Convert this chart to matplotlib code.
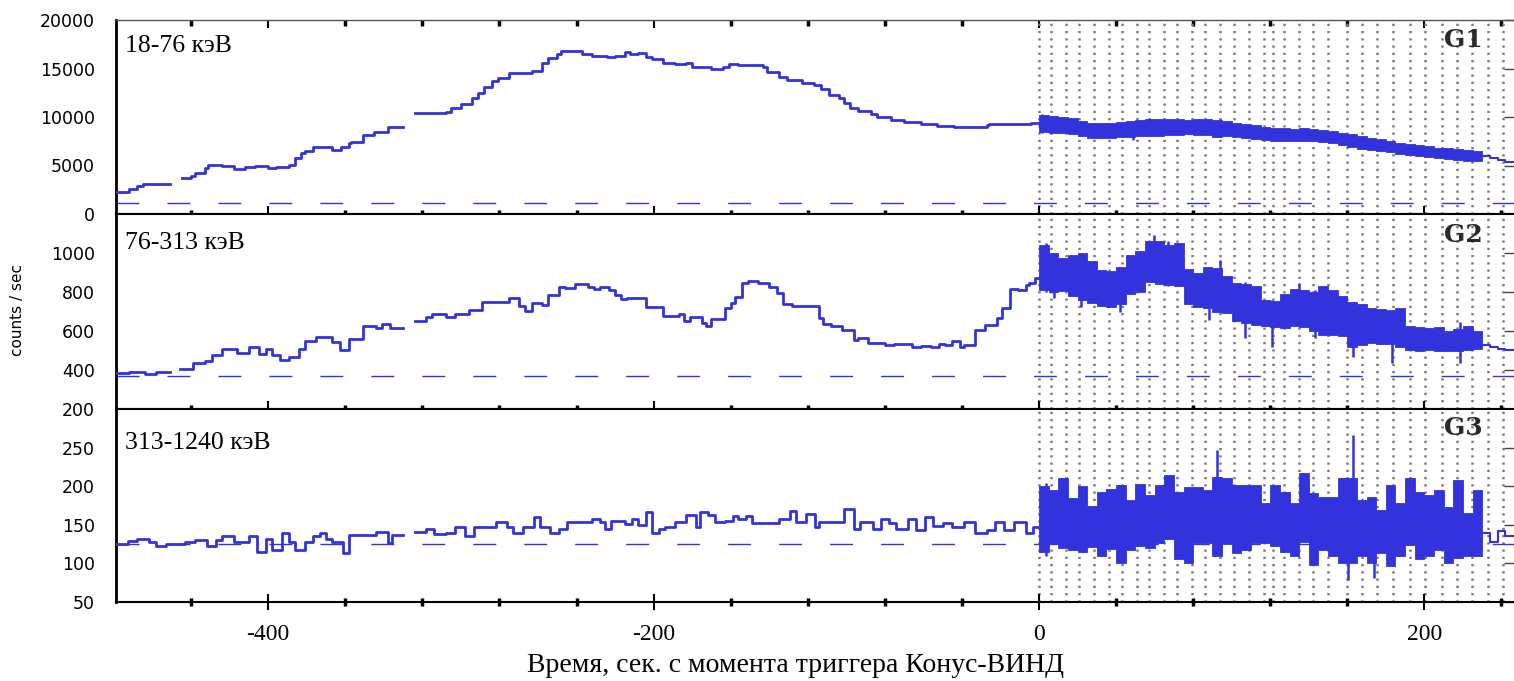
import numpy as np
import matplotlib
matplotlib.use("Agg")
from matplotlib import pyplot as plt
from matplotlib.ticker import MultipleLocator, FixedLocator

nan = np.nan
BLUE = '#3333dd'
plt.rcParams['axes.unicode_minus'] = False

# pre-trigger light curves: step edges (s) and count rates
t_g1 = [-479, -472, -468, -465, -451, -445, -440, -438, -433, -431, -424, -418, -412, -407, -400,
        -396, -389, -386, -383, -381, -377, -370, -367, -362, -358, -357, -351, -345, -338, -330,
        -324, -308, -305, -300, -294, -291, -288, -284, -281, -275, -263, -258, -255, -250, -248,
        -237, -232, -224, -220, -215, -212, -208, -204, -201, -195, -189, -183, -180, -170, -164,
        -161, -156, -153, -143, -141, -135, -131, -123, -117, -113, -109, -104, -101, -98, -94,
        -87, -84, -77, -70, -61, -53, -44, -27, -26, -18, -4, 0]
c_g1 = [2300, 2580, 2850, 3090, nan, 3680, 3920, 4260, 4710, 5020, 4900, 4610, 4810, 4950, 4710,
        4880, 5050, 5740, 6320, 6530, 6940, 6870, 6600, 6870, 7290, 7460, 8140, 8480, 9000, nan,
        10450, 10550, 10890, 11340, 11930, 12440, 13130, 13750, 13990, 14500, 14780, 15530, 16050, 16500, 16840,
        16500, 16320, 16220, 16320, 16670, 16500, 16560, 16220, 15980, 15530, 15430, 15530, 15190, 14950, 15190,
        15460, 15330, 15400, 15120, 14670, 14160, 13810, 13540, 13300, 12850, 12270, 11920, 11410, 10890, 10620,
        10310, 9970, 9690, 9520, 9250, 9070, 8940, 9180, 9280, 9250, 9420]

t_g2 = [-479, -472, -464, -458, -451, -446, -439, -433, -429, -424, -416, -410, -405, -401, -398,
        -394, -389, -384, -381, -375, -367, -363, -358, -351, -344, -341, -337, -330, -324, -318,
        -315, -308, -303, -296, -289, -275, -270, -267, -263, -258, -255, -249, -246, -241, -239,
        -234, -231, -228, -223, -220, -217, -214, -204, -195, -187, -184, -181, -175, -173, -170,
        -163, -160, -158, -154, -151, -146, -140, -136, -133, -128, -114, -112, -108, -102, -96,
        -94, -89, -80, -75, -66, -61, -56, -52, -49, -45, -41, -39, -33, -28, -22,
        -19, -15, -11, -7, -5, -2, 0]
c_g2 = [385, 391, 379, 391, nan, 404, 437, 447, 477, 506, 489, 520, 482, 506, 477,
        451, 468, 506, 550, 568, 544, 502, 561, 627, 614, 636, 614, nan, 653, 670,
        687, 674, 687, 708, 750, 768, 728, 704, 745, 733, 785, 824, 819, 841, 839,
        827, 815, 824, 810, 785, 765, 768, 721, 677, 687, 653, 670, 643, 626, 660,
        716, 742, 776, 845, 856, 845, 828, 793, 738, 728, 665, 636, 626, 605, 554,
        562, 537, 528, 533, 519, 522, 516, 533, 528, 550, 519, 528, 605, 631, 665,
        716, 814, 810, 836, 845, 870]

t_g3 = [-479, -473, -468, -462, -458, -453, -443, -438, -432, -427, -424, -418, -410, -406, -401,
        -398, -393, -389, -386, -381, -377, -373, -370, -367, -361, -358, -344, -338, -336, -330,
        -324, -318, -314, -308, -303, -298, -293, -282, -276, -273, -268, -262, -259, -254, -249,
        -245, -232, -228, -225, -222, -215, -211, -208, -204, -201, -197, -194, -189, -183, -178,
        -176, -172, -168, -163, -159, -156, -152, -149, -135, -129, -126, -121, -116, -114, -101,
        -96, -93, -86, -82, -78, -74, -68, -64, -59, -55, -50, -45, -39, -33, -27,
        -23, -18, -13, -7, -3, 0]
c_g3 = [125, 129, 131, 128, 122, 125, 128, 130, 122, 130, 135, 128, 135, 115, 132,
        117, 139, 128, 118, 128, 135, 140, 131, 128, 113, 137, 141, 126, 137, nan,
        141, 144, 138, 140, 147, 135, 147, 153, 147, 139, 147, 160, 147, 139, 145,
        153, 157, 154, 145, 155, 151, 157, 150, 167, 139, 144, 147, 153, 163, 147,
        167, 163, 153, 155, 161, 157, 161, 152, 158, 168, 153, 164, 147, 154, 170,
        145, 153, 145, 157, 152, 145, 157, 143, 160, 148, 152, 147, 153, 139, 143,
        154, 143, 154, 139, 147]

# post-trigger fast data: upper / lower envelope of the noisy band, 5 s bins
t_band = list(range(0, 235, 5))
g1_hi = [10250, 10100, 10000, 9850, 9600, 9400, 9350, 9400, 9500, 9600, 9700, 9750, 9800, 9800, 9750,
         9700, 9750, 9800, 9700, 9600, 9400, 9300, 9200, 9000, 8900, 8850, 8800, 8850, 8800, 8700,
         8550, 8400, 8200, 8000, 7850, 7700, 7500, 7300, 7200, 7150, 7000, 6800, 6800, 6700, 6600, 6450]
g1_lo = [8500, 8350, 8300, 8200, 8000, 7850, 7800, 7850, 7900, 7950, 8000, 8050, 8050, 8100, 8150,
         8200, 8150, 8100, 7950, 8000, 7900, 7850, 7750, 7600, 7550, 7550, 7500, 7550, 7550, 7450,
         7300, 7150, 6950, 6750, 6600, 6500, 6350, 6200, 6050, 6000, 5900, 5750, 5650, 5550, 5500, 5450]
g2_hi = [1040, 1000, 975, 990, 1000, 960, 915, 910, 930, 990, 1010, 1060, 1060, 1040, 1050,
         920, 900, 930, 925, 880, 845, 840, 830, 760, 755, 790, 815, 810, 800, 830,
         810, 780, 750, 740, 720, 715, 710, 720, 625, 620, 615, 620, 600, 610, 625, 600]
g2_lo = [810, 800, 805, 780, 760, 745, 730, 725, 740, 790, 800, 850, 840, 835, 830,
         740, 725, 720, 700, 690, 650, 640, 630, 625, 620, 615, 625, 620, 600, 580,
         580, 575, 520, 530, 540, 535, 535, 520, 505, 500, 505, 495, 500, 500, 505, 510]
g3_hi = [200, 195, 210, 185, 200, 175, 193, 196, 202, 182, 203, 188, 202, 214, 193,
         199, 199, 195, 212, 210, 201, 201, 201, 178, 201, 193, 178, 217, 191, 186,
         186, 210, 210, 182, 186, 169, 201, 178, 210, 193, 188, 195, 173, 208, 165, 195]
g3_lo = [115, 125, 120, 117, 115, 121, 110, 119, 100, 117, 122, 120, 126, 132, 106,
         100, 126, 126, 109, 125, 113, 117, 126, 126, 122, 115, 109, 128, 98, 117,
         109, 100, 100, 110, 100, 113, 96, 109, 124, 106, 109, 117, 100, 107, 109, 110]

# single-bin spikes in the fast data (time, low, high)
g1_spk = ([1.5, 49, 94], [8400, 7630, 7970], [10350, 9600, 9750])
g2_spk = ([3.5, 7.8, 21.6, 42.2, 59.6, 67, 88.1, 94.1, 107, 120.9, 134.7, 143.3, 163.2, 183, 218.4],
          [800, 768, 725, 699, 850, 830, 656, 700, 563, 519, 640, 563, 468, 434, 434],
          [1053, 990, 1000, 930, 1092, 1063, 900, 964, 850, 760, 845, 810, 750, 700, 648])
g3_spk = ([3.5, 92.4, 137, 160.1, 163.2, 173.6],
          [109, 140, 130, 78.5, 150, 80.7],
          [204, 247, 217, 150, 266, 150])

# after the fast data ends
t_tail = [230, 234, 238, 242, 248]
g1_tail = [5950, 5800, 5600, 5350]
g2_tail = [528, 520, 510, 502]
g3_tail = [140, 128, 142, 136]

background = [1150, 371, 125]
t_intervals = [0, 6.1, 13.9, 20.8, 28.5, 36.3, 43.2, 51, 57, 64.8, 71.7, 79.5, 86.4, 94.1, 101,
               108.8, 116.6, 121.5, 126.9, 134.7, 142.4, 150.2, 159.7, 167.5, 175.3, 183.9, 192.5,
               200.3, 208.9, 216.7, 224.5, 233.1, 240.9]

bands = ['18-76 кэВ', '76-313 кэВ', '313-1240 кэВ']
names = ['G1', 'G2', 'G3']
ylims = [(0, 20000), (200, 1200), (50, 300)]
yticks = [[0, 5000, 10000, 15000, 20000], [200, 400, 600, 800, 1000], [50, 100, 150, 200, 250]]
label_y = [0.866, 0.851, 0.824]
name_y = [0.897, 0.892, 0.900]

pre = [(t_g1, c_g1), (t_g2, c_g2), (t_g3, c_g3)]
fast = [(g1_lo, g1_hi), (g2_lo, g2_hi), (g3_lo, g3_hi)]
spikes = [g1_spk, g2_spk, g3_spk]
tails = [g1_tail, g2_tail, g3_tail]

fig = plt.figure(figsize=(15.14, 6.81), dpi=100)
W, H = 1514.0, 681.0
tops = [20, 214, 409]
bots = [214, 409, 602]
left = 116

for i in range(3):
    ax = fig.add_axes([left / W, 1 - bots[i] / H, 1 - left / W, (bots[i] - tops[i]) / H])
    ax.set_xlim(-479, 246.5)
    ax.set_ylim(*ylims[i])

    for t in t_intervals:
        ax.axvline(t, color='#7a7a7a', lw=1.8, ls=(0, (0.9, 2.0)), zorder=1)
    ax.axhline(background[i], color=BLUE, lw=1.0, ls=(0, (16.5, 20.2)), zorder=2)

    t, c = pre[i]
    ax.step(t, list(c) + [c[-1]], where='post', color=BLUE, lw=2.0, zorder=3)
    lo, hi = fast[i]
    ax.fill_between(t_band, lo + [lo[-1]], hi + [hi[-1]], step='post', color=BLUE, lw=0.6,
                    edgecolor=BLUE, zorder=3)
    st, slo, shi = spikes[i]
    ax.vlines(st, slo, shi, color=BLUE, lw=1.8, zorder=3)
    tl = tails[i]
    ax.step(t_tail, tl + [tl[-1]], where='post', color=BLUE, lw=1.5, zorder=3)

    ax.text(0.0064, label_y[i], bands[i], transform=ax.transAxes, fontsize=18.5,
            family='Liberation Serif', va='center', ha='left')
    ax.text(0.9635, name_y[i], names[i], transform=ax.transAxes, fontsize=18,
            family='DejaVu Serif', fontweight='bold', color='#2a2a2a', va='center', ha='center')

    ax.spines['right'].set_visible(False)
    ax.spines['left'].set_linewidth(2)
    ax.spines['bottom'].set_linewidth(1.5)
    ax.spines['top'].set_linewidth(1.0 if i == 0 else 1.5)
    ax.spines['top'].set_color('#555555' if i == 0 else 'black')

    ax.yaxis.set_major_locator(FixedLocator(yticks[i]))
    ax.tick_params(axis='y', direction='in', left=False, right=True, labelleft=True,
                   length=7, width=1, color='#444444', pad=15, labelsize=12.5)

    ax.xaxis.set_major_locator(MultipleLocator(200))
    ax.xaxis.set_minor_locator(MultipleLocator(40))
    ax.tick_params(axis='x', which='major', direction='inout', length=11, width=1.5, top=False)
    ax.tick_params(axis='x', which='minor', direction='inout', length=6, width=2.5, top=False)
    if i == 2:
        ax.tick_params(axis='x', which='major', labelsize=17, pad=10)
        for lab in ax.get_xticklabels():
            lab.set_family('Liberation Serif')
        ax.set_xlabel('Время, сек. с момента триггера Конус-ВИНД', family='Liberation Serif',
                      fontsize=20)
        ax.xaxis.set_label_coords(0.486, -0.265)
    else:
        ax.tick_params(axis='x', labelbottom=False)
    if i == 0:
        sec = ax.secondary_xaxis('top')
        sec.xaxis.set_major_locator(MultipleLocator(200))
        sec.xaxis.set_minor_locator(MultipleLocator(40))
        sec.tick_params(axis='x', which='major', direction='in', length=6, width=1.5, labeltop=False)
        sec.tick_params(axis='x', which='minor', direction='in', length=4, width=2.5)
        sec.spines['top'].set_visible(False)

fig.text(18 / W, 1 - 310 / H, 'counts / sec', rotation=90, fontsize=11, va='center', ha='center')

fig.savefig('out.png', dpi=100)
